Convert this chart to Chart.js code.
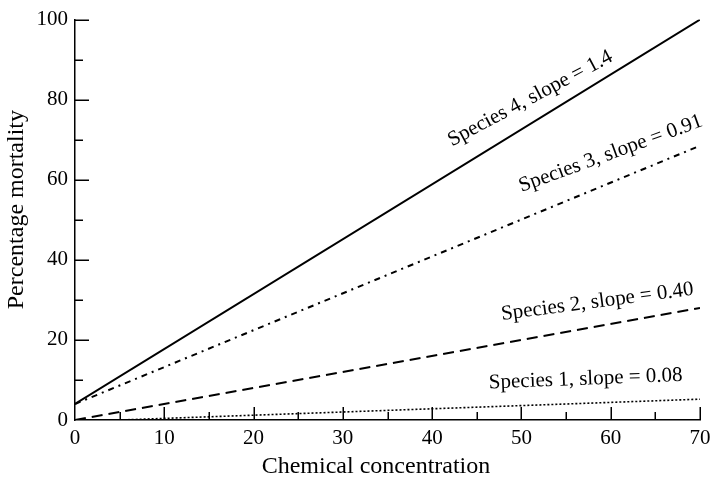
<!DOCTYPE html>
<html>
<head>
<meta charset="utf-8">
<script src="https://cdn.jsdelivr.net/npm/chart.js@4/dist/chart.umd.min.js"></script>
<style>
html,body{margin:0;padding:0;background:#fff;}
#wrap{width:720px;height:481px;}
</style>
</head>
<body>
<div id="wrap"><canvas id="c" width="720" height="481"></canvas></div>
<script>
// ---- data ----
const speciesNames = ['Species 1', 'Species 2', 'Species 3', 'Species 4'];
const slopeLabels = ['0.08', '0.40', '0.91', '1.4'];
const concentrations = [[5, 70], [0, 70], [0, 70], [0, 70]];
const mortality1 = [0, 5.2];
const mortality2 = [0, 28];
const mortality3 = [4, 68.5];
const mortality4 = [4, 100];
const xTicks = [0, 10, 20, 30, 40, 50, 60, 70];
const yTicks = [0, 20, 40, 60, 80, 100];
const xTitle = 'Chemical concentration';
const yTitle = 'Percentage mortality';

const mortalities = [mortality1, mortality2, mortality3, mortality4];

const FONT = "'Liberation Serif', 'Times New Roman', serif";
const styles = [
  {dash: [2, 2], width: 1.6},
  {dash: [11, 6], width: 2},
  {dash: [6, 5, 2, 5], width: 2},
  {dash: [], width: 2}
];
// label placement (data coords of text centre) and rotation in degrees
const labelPlacement = [
  {x: 57.2, y: 10.2, rot: -2.2},
  {x: 58.5, y: 29.5, rot: -7.5},
  {x: 60.0, y: 66.5, rot: -20},
  {x: 51.0, y: 80.3, rot: -28}
];

const datasets = speciesNames.map((name, i) => ({
  label: name,
  data: concentrations[i].map((c, j) => ({x: c, y: mortalities[i][j]})),
  borderColor: '#000',
  borderWidth: styles[i].width,
  borderDash: styles[i].dash,
  pointRadius: 0,
  fill: false,
  tension: 0
}));

const insideTicks = {
  id: 'insideTicks',
  afterDraw(chart) {
    const {ctx, chartArea, scales: {x, y}} = chart;
    ctx.save();
    ctx.strokeStyle = '#000';
    ctx.lineWidth = 1.5;
    ctx.beginPath();
    for (let v = 10; v <= 100; v += 10) {
      const py = Math.round(y.getPixelForValue(v)) + 0.25;
      const len = v % 20 === 0 ? 14 : 8;
      ctx.moveTo(chartArea.left, py);
      ctx.lineTo(chartArea.left + len, py);
    }
    for (let v = 5; v <= 70; v += 5) {
      const px = Math.round(x.getPixelForValue(v)) + 0.25;
      const len = v % 10 === 0 ? 13 : 8;
      ctx.moveTo(px, chartArea.bottom);
      ctx.lineTo(px, chartArea.bottom - len);
    }
    ctx.stroke();
    // line labels
    ctx.fillStyle = '#000';
    ctx.font = '21px ' + FONT;
    ctx.textAlign = 'center';
    ctx.textBaseline = 'middle';
    speciesNames.forEach((name, i) => {
      const p = labelPlacement[i];
      const px = x.getPixelForValue(p.x);
      const py = y.getPixelForValue(p.y);
      ctx.save();
      ctx.translate(px, py);
      ctx.rotate(p.rot * Math.PI / 180);
      ctx.fillText(name + ', slope = ' + slopeLabels[i], 0, 0);
      ctx.restore();
    });
    // axis titles
    ctx.font = '24px ' + FONT;
    ctx.fillText(xTitle, chartArea.left + 301, 467);
    ctx.save();
    ctx.translate(17, chartArea.top + 190);
    ctx.rotate(-Math.PI / 2);
    ctx.fillText(yTitle, 0, 0);
    ctx.restore();
    ctx.restore();
  }
};

new Chart(document.getElementById('c'), {
  type: 'line',
  data: {datasets},
  options: {
    responsive: false,
    animation: false,
    devicePixelRatio: 1,
    layout: {padding: {top: 15, right: 20, left: 0, bottom: 0}},
    plugins: {legend: {display: false}, tooltip: {enabled: false}},
    scales: {
      x: {
        type: 'linear',
        min: 0, max: 70,
        afterFit(s) { s.height = 61; },
        afterBuildTicks(s) { s.ticks = xTicks.map(v => ({value: v})); },
        grid: {display: false, drawTicks: false},
        border: {display: true, color: '#000', width: 1.5},
        ticks: {color: '#000', font: {family: FONT, size: 21}, padding: 6, maxRotation: 0, autoSkip: false},
        title: {display: false}
      },
      y: {
        type: 'linear',
        min: 0, max: 100,
        afterFit(s) { s.width = 75; },
        afterBuildTicks(s) { s.ticks = yTicks.map(v => ({value: v})); },
        grid: {display: false, drawTicks: false},
        border: {display: true, color: '#000', width: 1.5},
        ticks: {color: '#000', font: {family: FONT, size: 21}, padding: 7, autoSkip: false},
        title: {display: false}
      }
    }
  },
  plugins: [insideTicks]
});
</script>
</body>
</html>
